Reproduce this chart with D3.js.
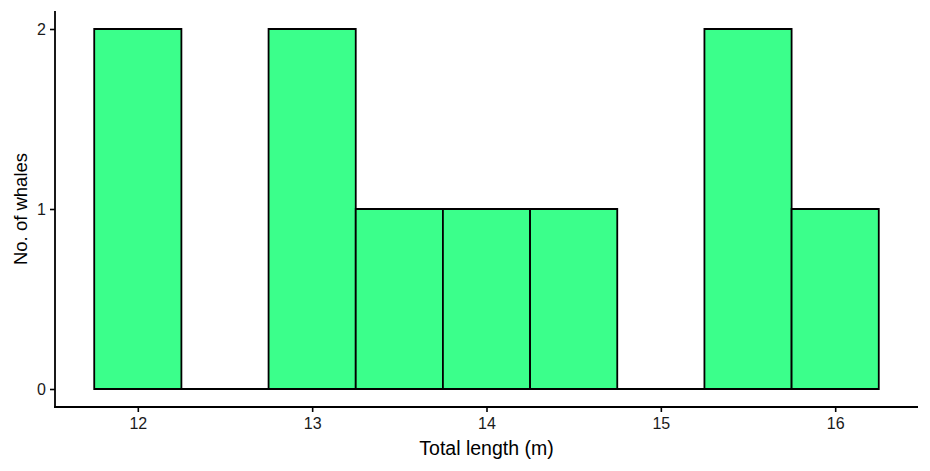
<!DOCTYPE html>
<html>
<head>
<meta charset="utf-8">
<script src="https://cdn.jsdelivr.net/npm/d3@7"></script>
<style>
  body { margin: 0; background: #fff; }
  svg { font-family: "Liberation Sans", Arial, sans-serif; }
</style>
</head>
<body>
<svg id="chart"></svg>
<script>
// histogram bins (bin width 0.5 m)
const binStarts = [11.75, 12.25, 12.75, 13.25, 13.75, 14.25, 14.75, 15.25, 15.75];
const binWidth = 0.5;
const counts = [2, 0, 2, 1, 1, 1, 0, 2, 1];
const xTicks = [12, 13, 14, 15, 16];
const yTicks = [0, 1, 2];

const width = 930, height = 471;
const margin = {top: 11, right: 12, bottom: 64, left: 55};

const svg = d3.select("#chart")
  .attr("width", width)
  .attr("height", height);

const lo = binStarts[0], hi = binStarts[binStarts.length - 1] + binWidth;
const pad = (hi - lo) * 0.05;

const x = d3.scaleLinear()
  .domain([lo - pad, hi + pad])
  .range([margin.left, width - margin.right]);

const y = d3.scaleLinear()
  .domain([-0.1, 2.1])
  .range([height - margin.bottom, margin.top]);

const bins = binStarts.map((s, i) => ({x0: s, x1: s + binWidth, n: counts[i]}));

// paths so that empty bins still show their outline at zero
svg.append("g")
  .selectAll("path")
  .data(bins)
  .join("path")
  .attr("d", d => `M${x(d.x0)},${y(0)}H${x(d.x1)}V${y(d.n)}H${x(d.x0)}Z`)
  .attr("fill", "#3bff8b")
  .attr("stroke", "black")
  .attr("stroke-width", 1.8)
  .attr("stroke-linejoin", "miter");

// x axis
svg.append("g")
  .attr("transform", `translate(0,${height - margin.bottom})`)
  .call(d3.axisBottom(x).tickValues(xTicks).tickSize(5).tickPadding(6).tickFormat(d3.format("d")))
  .call(g => g.select(".domain").attr("stroke-width", 1.8).attr("d", `M${margin.left - 0.9},0H${width - margin.right}`))
  .call(g => g.selectAll(".tick line").attr("stroke-width", 1.6))
  .call(g => g.selectAll("text").style("font-size", "16px").attr("fill", "#1a1a1a"));

// y axis
svg.append("g")
  .attr("transform", `translate(${margin.left},0)`)
  .call(d3.axisLeft(y).tickValues(yTicks).tickSize(5).tickPadding(4).tickFormat(d3.format("d")))
  .call(g => g.select(".domain").attr("stroke-width", 1.8).attr("d", `M0,${margin.top}V${height - margin.bottom + 0.9}`))
  .call(g => g.selectAll(".tick line").attr("stroke-width", 1.6))
  .call(g => g.selectAll("text").style("font-size", "16px").attr("fill", "#1a1a1a"));

svg.append("text")
  .attr("x", (margin.left + width - margin.right) / 2)
  .attr("y", 455)
  .attr("text-anchor", "middle")
  .style("font-size", "19.5px")
  .text("Total length (m)");

svg.append("text")
  .attr("transform", `translate(27,${(margin.top + height - margin.bottom) / 2}) rotate(-90)`)
  .attr("text-anchor", "middle")
  .style("font-size", "18.5px")
  .text("No. of whales");
</script>
</body>
</html>
